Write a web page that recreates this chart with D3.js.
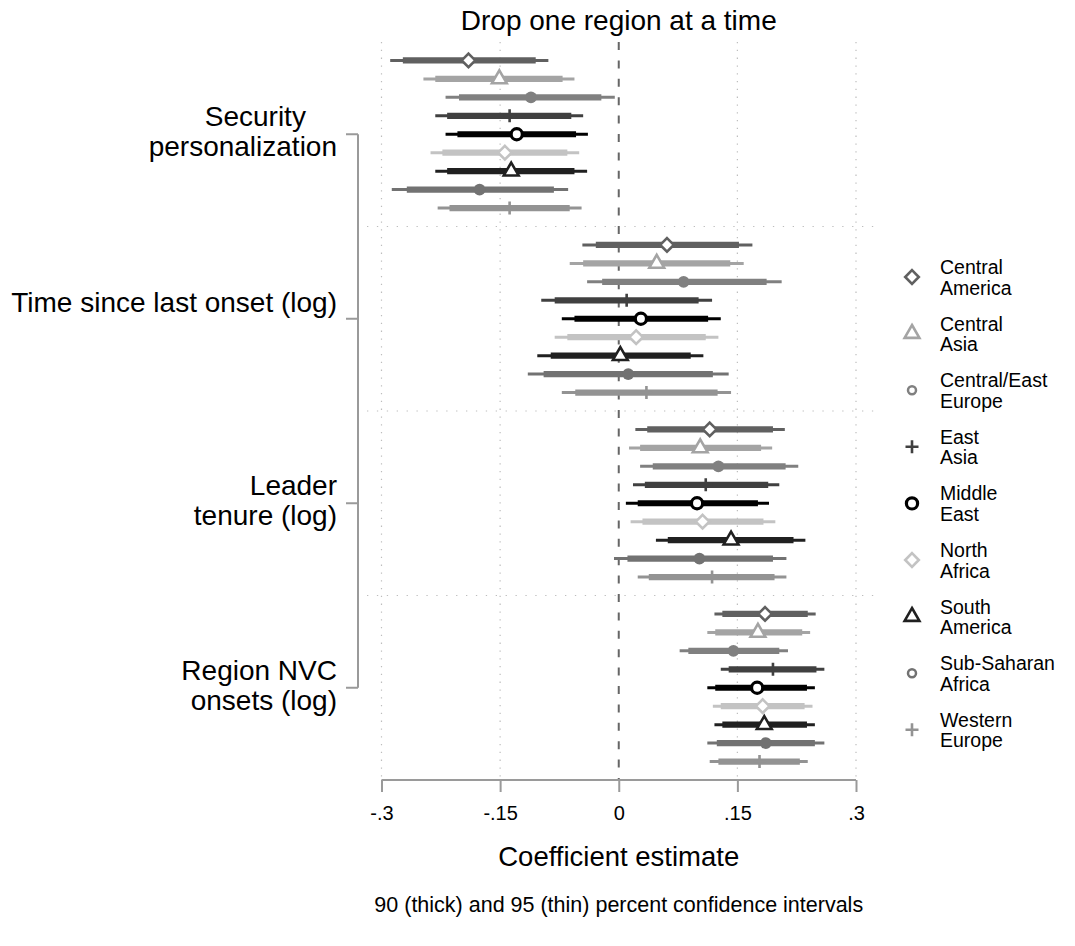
<!DOCTYPE html>
<html>
<head>
<meta charset="utf-8">
<script src="https://cdn.jsdelivr.net/npm/d3@7"></script>
<style>
  html, body { margin: 0; padding: 0; background: #fff; }
  svg { display: block; font-family: "Liberation Sans", Arial, Helvetica, sans-serif; }
</style>
</head>
<body>
<svg id="chart" width="1075" height="946"></svg>
<script>
// Coefficient plot: each covariate re-estimated dropping one region at a time.
const variables = [
  ["Security\u00a0\u00a0\u00a0\u00a0", "personalization"],
  ["Time since last onset (log)"],
  ["Leader", "tenure (log)"],
  ["Region NVC", "onsets (log)"]
];

const regions = [
  ["Central", "America"],
  ["Central", "Asia"],
  ["Central/East", "Europe"],
  ["East", "Asia"],
  ["Middle", "East"],
  ["North", "Africa"],
  ["South", "America"],
  ["Sub-Saharan", "Africa"],
  ["Western", "Europe"]
];

// Rows: one per covariate; columns follow the region order above.
const estimate = [
  [-0.190, -0.151, -0.111, -0.138, -0.129, -0.144, -0.136, -0.176, -0.138],
  [ 0.061,  0.048,  0.082,  0.010,  0.028,  0.022,  0.002,  0.012,  0.035],
  [ 0.115,  0.103,  0.126,  0.110,  0.099,  0.106,  0.142,  0.102,  0.118],
  [ 0.185,  0.176,  0.145,  0.195,  0.175,  0.182,  0.184,  0.186,  0.178]
];
const lower90 = [
  [-0.273, -0.232, -0.202, -0.217, -0.204, -0.223, -0.217, -0.268, -0.214],
  [-0.029, -0.045, -0.021, -0.081, -0.056, -0.065, -0.086, -0.095, -0.055],
  [ 0.036,  0.027,  0.043,  0.033,  0.024,  0.030,  0.062,  0.011,  0.038],
  [ 0.131,  0.122,  0.088,  0.139,  0.122,  0.129,  0.131,  0.124,  0.126]
];
const upper90 = [
  [-0.105, -0.071, -0.022, -0.060, -0.054, -0.065, -0.056, -0.082, -0.062],
  [ 0.152,  0.141,  0.187,  0.101,  0.113,  0.110,  0.091,  0.119,  0.125],
  [ 0.195,  0.180,  0.211,  0.189,  0.176,  0.183,  0.221,  0.195,  0.197],
  [ 0.239,  0.232,  0.203,  0.250,  0.238,  0.235,  0.238,  0.248,  0.229]
];
const lower95 = [
  [-0.289, -0.247, -0.219, -0.232, -0.219, -0.238, -0.232, -0.287, -0.229],
  [-0.046, -0.062, -0.040, -0.098, -0.072, -0.081, -0.103, -0.115, -0.072],
  [ 0.021,  0.013,  0.027,  0.018,  0.009,  0.015,  0.047, -0.006,  0.024],
  [ 0.121,  0.112,  0.077,  0.129,  0.112,  0.119,  0.121,  0.112,  0.115]
];
const upper95 = [
  [-0.089, -0.056, -0.005, -0.045, -0.039, -0.050, -0.040, -0.064, -0.047],
  [ 0.169,  0.158,  0.206,  0.118,  0.129,  0.126,  0.107,  0.139,  0.142],
  [ 0.210,  0.194,  0.227,  0.203,  0.190,  0.198,  0.236,  0.212,  0.212],
  [ 0.249,  0.242,  0.214,  0.260,  0.248,  0.245,  0.248,  0.260,  0.239]
];

const xTicks = [-0.3, -0.15, 0, 0.15, 0.3];
const xTickLabels = ["-.3", "-.15", "0", ".15", ".3"];

// Per-region appearance
const regionColor = ["#606060", "#a4a4a4", "#808080", "#404040", "#000000",
                     "#c3c3c3", "#202020", "#727272", "#939393"];
const regionSymbol = ["diamond", "triangle", "dot", "plus", "ring",
                      "diamond", "triangle", "dot", "plus"];

const svg = d3.select("#chart");
svg.append("rect").attr("width", 1075).attr("height", 946).attr("fill", "#fff");

const nRows = regions.length;
const slotsPerGroup = nRows + 1;
const nSlots = variables.length * slotsPerGroup; // 40 slots incl. margins

const x = d3.scaleLinear().domain([-0.3, 0.3]).range([381.5, 856]);
const y = d3.scaleLinear().domain([0, nSlots]).range([42, 780]);
const rowSlot = (g, i) => 1 + g * slotsPerGroup + i;
const groupCenter = g => rowSlot(g, Math.floor(nRows / 2));

const plotLeft = 367, plotRight = 878;

// Grid lines
const grid = svg.append("g");
grid.selectAll("line.vg").data(xTicks.filter(d => d !== 0)).join("line")
  .attr("x1", d => x(d)).attr("x2", d => x(d))
  .attr("y1", y(0)).attr("y2", y(nSlots))
  .attr("stroke", "#bdbdbd").attr("stroke-width", 1.2)
  .attr("stroke-dasharray", "1.3,6.5");
grid.selectAll("line.hg").data(d3.range(1, variables.length)).join("line")
  .attr("x1", plotLeft).attr("x2", plotRight)
  .attr("y1", g => y(g * slotsPerGroup)).attr("y2", g => y(g * slotsPerGroup))
  .attr("stroke", "#bdbdbd").attr("stroke-width", 1.2)
  .attr("stroke-dasharray", "1.3,8.6");

// Reference line at zero
svg.append("line")
  .attr("x1", x(0)).attr("x2", x(0))
  .attr("y1", y(0)).attr("y2", y(nSlots))
  .attr("stroke", "#666").attr("stroke-width", 2)
  .attr("stroke-dasharray", "8,10.4");

// Flatten the estimates into rows
const rows = [];
variables.forEach((v, g) => {
  regions.forEach((r, i) => {
    rows.push({
      g, i,
      est: estimate[g][i],
      lo90: lower90[g][i], hi90: upper90[g][i],
      lo95: lower95[g][i], hi95: upper95[g][i]
    });
  });
});

function markerPath(type) {
  switch (type) {
    case "diamond": return "M0,-6.8L6.8,0L0,6.8L-6.8,0Z";
    case "triangle": return "M0,-8.6L7.4,4.3L-7.4,4.3Z";
    case "plus": return "M-6.5,0H6.5M0,-6.5V6.5";
    default: return null;
  }
}

function drawMarker(sel, type, color, legend) {
  if (type === "diamond" || type === "triangle") {
    sel.append("path").attr("d", markerPath(type))
      .attr("fill", "#fff").attr("stroke", color).attr("stroke-width", 2.6)
      .attr("stroke-linejoin", "miter");
  } else if (type === "plus") {
    sel.append("path").attr("d", markerPath(type))
      .attr("fill", "none").attr("stroke", color).attr("stroke-width", 2.6);
  } else if (type === "ring") {
    sel.append("circle").attr("r", 5.6)
      .attr("fill", "#fff").attr("stroke", color).attr("stroke-width", 3.2);
  } else if (type === "dot") {
    if (legend) {
      sel.append("circle").attr("r", 4)
        .attr("fill", "#fff").attr("stroke", color).attr("stroke-width", 2.5);
    } else {
      sel.append("circle").attr("r", 5.9).attr("fill", color);
    }
  }
}

const marks = svg.append("g");
const rowG = marks.selectAll("g.row").data(rows).join("g")
  .attr("class", "row");

rowG.append("line")
  .attr("x1", d => x(d.lo95)).attr("x2", d => x(d.hi95))
  .attr("y1", d => y(rowSlot(d.g, d.i))).attr("y2", d => y(rowSlot(d.g, d.i)))
  .attr("stroke", d => regionColor[d.i]).attr("stroke-width", 3);
rowG.append("line")
  .attr("x1", d => x(d.lo90)).attr("x2", d => x(d.hi90))
  .attr("y1", d => y(rowSlot(d.g, d.i))).attr("y2", d => y(rowSlot(d.g, d.i)))
  .attr("stroke", d => regionColor[d.i]).attr("stroke-width", 6.2);
rowG.each(function (d) {
  const m = d3.select(this).append("g")
    .attr("transform", `translate(${x(d.est)},${y(rowSlot(d.g, d.i))})`);
  drawMarker(m, regionSymbol[d.i], regionColor[d.i], false);
});

// X axis
const axisY = y(nSlots);
const axisG = svg.append("g").attr("transform", `translate(0,${axisY})`)
  .call(d3.axisBottom(x).tickValues(xTicks)
        .tickFormat((d, k) => xTickLabels[k])
        .tickSize(12).tickPadding(14));
axisG.select(".domain").attr("stroke", "#9a9a9a").attr("stroke-width", 2)
  .attr("d", `M${x(-0.3)},0H${x(0.3)}`);
axisG.selectAll(".tick line").attr("stroke", "#9a9a9a").attr("stroke-width", 2);
axisG.selectAll(".tick text").attr("fill", "#000")
  .style("font-size", "20px")
  .style("font-family", "'Liberation Sans', Arial, sans-serif");

// Left bracket grouping covariates
const bx = 358;
const bracket = svg.append("g").attr("stroke", "#9a9a9a").attr("stroke-width", 2).attr("fill", "none");
bracket.append("line")
  .attr("x1", bx).attr("x2", bx)
  .attr("y1", y(groupCenter(0))).attr("y2", y(groupCenter(variables.length - 1)));
bracket.selectAll("line.tk").data(variables.map((v, g) => g)).join("line")
  .attr("x1", bx - 12).attr("x2", bx)
  .attr("y1", g => y(groupCenter(g))).attr("y2", g => y(groupCenter(g)));

// Covariate labels
const labG = svg.append("g").attr("text-anchor", "end")
  .style("font-size", "28px").attr("fill", "#000");
variables.forEach((lines, g) => {
  const cy = y(groupCenter(g));
  const t = labG.append("text").attr("x", 337).attr("xml:space", "preserve");
  const lh = 30;
  const first = lines.length === 1 ? cy - 7 : cy - 8;
  lines.forEach((ln, k) => {
    t.append("tspan").attr("x", 337).attr("y", first + k * lh).text(ln);
  });
});

// Legend
const legend = svg.append("g");
regions.forEach((lines, i) => {
  const cy = 277 + 56.6 * i;
  const m = legend.append("g").attr("transform", `translate(912,${cy})`);
  drawMarker(m, regionSymbol[i], regionColor[i], true);
  const t = legend.append("text").style("font-size", "19.5px").attr("fill", "#000");
  lines.forEach((ln, k) => {
    t.append("tspan").attr("x", 940).attr("y", cy - 3 + k * 20.5).text(ln);
  });
});

// Titles
svg.append("text").attr("x", x(0)).attr("y", 30).attr("text-anchor", "middle")
  .style("font-size", "28px").text("Drop one region at a time");
svg.append("text").attr("x", x(0)).attr("y", 866).attr("text-anchor", "middle")
  .style("font-size", "27.5px").text("Coefficient estimate");
svg.append("text").attr("x", x(0)).attr("y", 912).attr("text-anchor", "middle")
  .style("font-size", "21.5px").text("90 (thick) and 95 (thin) percent confidence intervals");
</script>
</body>
</html>
